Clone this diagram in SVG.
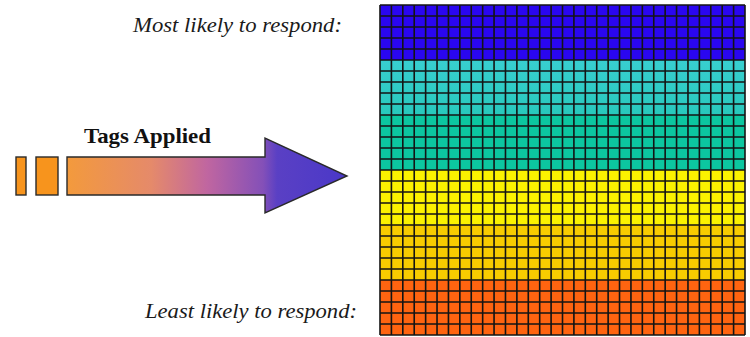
<svg xmlns="http://www.w3.org/2000/svg" width="750" height="337" viewBox="0 0 750 337">
  <style>
    .lbl { font-family: "Liberation Serif", "Times New Roman", serif; font-style: italic; font-size: 21px; fill: #1a1a1a; }
    .tag { font-family: "Liberation Serif", "Times New Roman", serif; font-weight: bold; font-size: 22px; fill: #111; }
    .grid { stroke: #141414; stroke-width: 1.6; fill: none; }
    .outline { stroke: #2a2a2a; stroke-width: 1.4; }
  </style>
  <defs>
    <linearGradient id="arrowGrad" gradientUnits="userSpaceOnUse" x1="67" y1="0" x2="347" y2="0">
      <stop offset="0" stop-color="#f39a3c"/>
      <stop offset="0.3" stop-color="#e58a6a"/>
      <stop offset="0.5" stop-color="#c066a0"/>
      <stop offset="0.7" stop-color="#8450b8"/>
      <stop offset="0.75" stop-color="#5a40c4"/>
      <stop offset="1" stop-color="#4a38c8"/>
    </linearGradient>
    <linearGradient id="cyanGrad" x1="0" y1="0" x2="0" y2="1">
      <stop offset="0" stop-color="#38cfd0"/>
      <stop offset="1" stop-color="#28c8bc"/>
    </linearGradient>
  </defs>
  <rect width="750" height="337" fill="#ffffff"/>

  <g id="label-most">
    <text class="lbl" x="133" y="32" textLength="209" lengthAdjust="spacingAndGlyphs">Most likely to respond:</text>
  </g>
  <g id="label-least">
    <text class="lbl" x="145" y="318" textLength="212" lengthAdjust="spacingAndGlyphs">Least likely to respond:</text>
  </g>

  <g id="tags-arrow">
    <rect x="16" y="157" width="10" height="38" fill="#f7941d" class="outline"/>
    <rect x="36" y="157" width="22" height="38" fill="#f7941d" class="outline"/>
    <path d="M67,157 L265,157 L265,138 L347,176 L265,213 L265,195 L67,195 Z" fill="url(#arrowGrad)" class="outline"/>
    <text class="tag" x="84" y="143" textLength="127" lengthAdjust="spacingAndGlyphs">Tags Applied</text>
  </g>

  <g id="grid">
    <rect x="380" y="5" width="365" height="55" fill="#2a06f0"/>
    <rect x="380" y="60" width="365" height="55" fill="url(#cyanGrad)"/>
    <rect x="380" y="115" width="365" height="55" fill="#0cc6a0"/>
    <rect x="380" y="170" width="365" height="55" fill="#fbf200"/>
    <rect x="380" y="225" width="365" height="55" fill="#f8cc00"/>
    <rect x="380" y="280" width="365" height="55" fill="#ff6410"/>
    <path class="grid" d="
      M380,5V335 M391.41,5V335 M402.81,5V335 M414.22,5V335 M425.63,5V335 M437.03,5V335 M448.44,5V335 M459.84,5V335
      M471.25,5V335 M482.66,5V335 M494.06,5V335 M505.47,5V335 M516.88,5V335 M528.28,5V335 M539.69,5V335 M551.09,5V335
      M562.5,5V335 M573.91,5V335 M585.31,5V335 M596.72,5V335 M608.13,5V335 M619.53,5V335 M630.94,5V335 M642.34,5V335
      M653.75,5V335 M665.16,5V335 M676.56,5V335 M687.97,5V335 M699.38,5V335 M710.78,5V335 M722.19,5V335 M733.59,5V335 M745,5V335
      M380,5H745 M380,16H745 M380,27H745 M380,38H745 M380,49H745 M380,60H745 M380,71H745 M380,82H745 M380,93H745 M380,104H745
      M380,115H745 M380,126H745 M380,137H745 M380,148H745 M380,159H745 M380,170H745 M380,181H745 M380,192H745 M380,203H745 M380,214H745
      M380,225H745 M380,236H745 M380,247H745 M380,258H745 M380,269H745 M380,280H745 M380,291H745 M380,302H745 M380,313H745 M380,324H745 M380,335H745"/>
  </g>
</svg>
